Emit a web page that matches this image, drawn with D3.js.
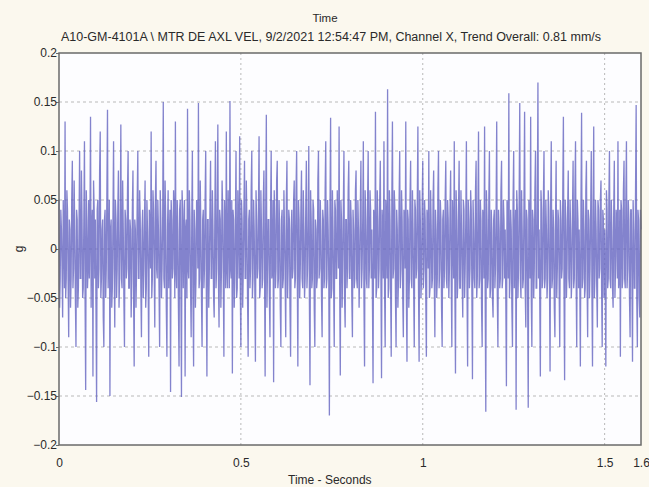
<!DOCTYPE html>
<html>
<head>
<meta charset="utf-8">
<script src="https://cdn.jsdelivr.net/npm/d3@7"></script>
<style>
  body { margin: 0; background: #fbf8ee; }
  text { font-family: "Liberation Sans", Arial, sans-serif; fill: #2a2a2a; }
</style>
</head>
<body>
<div id="chart"></div>
<script>
// waveform samples (g), one every 1.6/960 s
var amplitude = [
  0.05, -0.06, -0.03, 0.04, 0.02, -0.02, -0.07, 0.05, 0.01, -0.04, 0.13, -0.05, -0.03, 0.06, 0.04, -0.03, -0.09, 0.03, 0.02, -0.06, -0.03, 0.05, 0.09, -0.04, -0.02, 0.07, 0.02, -0.05, -0.1, 0.04, 0.03, -0.06, -0.04, 0.02, 0.1, -0.03, -0.03, 0.08, 0.03, -0.05,
  -0.04, 0.03, 0.11, -0.05, -0.144, 0.06, 0.03, -0.04, -0.02, 0.05, -0.03, 0.02, 0.135, -0.06, 0.02, 0.04, -0.13, 0.07, 0.04, -0.03, 0.03, -0.06, -0.156, 0.04, 0.05, -0.04, -0.02, 0.08, 0.12, -0.05, -0.03, 0.02, 0.03, -0.07, -0.1, 0.03, 0.04, -0.05, -0.02, 0.06,
  0.142, -0.04, 0.0, 0.05, -0.15, 0.02, 0.03, -0.06, -0.04, 0.03, 0.11, -0.02, -0.08, 0.05, 0.03, -0.05, -0.02, 0.04, 0.08, -0.06, -0.03, 0.02, 0.127, -0.03, -0.04, 0.07, 0.02, -0.05, -0.1, 0.04, 0.03, -0.03, -0.02, 0.06, 0.1, -0.04, -0.04, 0.03, 0.02, -0.07,
  -0.03, 0.04, 0.08, -0.05, -0.12, 0.03, 0.02, -0.06, -0.02, 0.05, 0.1, -0.03, -0.03, 0.06, 0.03, -0.04, -0.09, 0.02, 0.04, -0.05, -0.02, 0.03, 0.07, -0.06, -0.04, 0.05, 0.02, -0.03, -0.11, 0.04, 0.02, -0.02, 0.12, -0.05, -0.03, 0.06, 0.04, -0.02, -0.08, 0.05,
  0.09, -0.02, -0.03, 0.05, 0.02, -0.04, -0.1, 0.06, 0.03, -0.05, -0.02, 0.03, 0.15, -0.03, -0.04, 0.07, 0.03, -0.06, -0.11, 0.02, 0.06, -0.04, 0.01, 0.04, -0.146, 0.05, 0.03, -0.03, -0.02, 0.06, 0.04, -0.05, 0.13, -0.02, -0.04, 0.05, 0.02, -0.06, -0.12, 0.04,
  0.05, -0.03, -0.151, 0.06, 0.04, -0.04, 0.02, 0.05, -0.13, 0.02, 0.03, -0.05, 0.143, -0.02, -0.03, 0.06, 0.03, -0.04, -0.09, 0.03, 0.1, -0.05, -0.12, 0.04, 0.02, -0.06, -0.03, 0.05, 0.04, -0.02, 0.149, -0.04, -0.03, 0.07, 0.02, -0.05, -0.1, 0.03, 0.04, -0.04,
  -0.02, 0.05, 0.1, -0.04, -0.13, 0.03, 0.03, -0.06, -0.02, 0.04, 0.09, -0.03, -0.03, 0.06, 0.02, -0.05, -0.07, 0.03, 0.11, -0.04, -0.02, 0.05, 0.127, -0.03, -0.08, 0.04, 0.03, -0.06, -0.02, 0.07, 0.04, -0.03, -0.11, 0.05, 0.02, -0.04, 0.12, -0.02, -0.04, 0.06,
  0.02, -0.04, 0.151, -0.02, -0.03, 0.05, -0.127, 0.04, 0.03, -0.06, -0.03, 0.03, 0.1, -0.05, -0.04, 0.06, 0.02, -0.03, 0.115, -0.04, -0.1, 0.05, 0.03, -0.06, -0.02, 0.04, 0.09, -0.03, -0.03, 0.07, 0.02, -0.05, -0.11, 0.03, 0.04, -0.04, -0.02, 0.06, 0.1, -0.05,
  -0.03, 0.05, 0.02, -0.04, -0.115, 0.06, 0.03, -0.03, -0.02, 0.04, 0.115, -0.05, -0.04, 0.06, 0.02, -0.04, -0.03, 0.05, 0.08, -0.02, -0.13, 0.04, 0.137, -0.06, -0.02, 0.03, 0.03, -0.05, -0.09, 0.04, 0.1, -0.03, -0.02, 0.05, -0.136, 0.06, 0.03, -0.04, -0.02, 0.07,
  0.09, -0.04, -0.03, 0.05, 0.02, -0.06, -0.1, 0.03, 0.04, -0.04, -0.03, 0.06, 0.02, -0.03, -0.09, 0.05, 0.09, -0.05, -0.02, 0.04, 0.03, -0.06, -0.11, 0.02, 0.04, -0.03, -0.02, 0.05, 0.07, -0.04, -0.03, 0.06, 0.1, -0.02, -0.12, 0.05, 0.03, -0.05, -0.02, 0.04,
  0.08, -0.03, -0.04, 0.06, 0.02, -0.05, -0.03, 0.04, 0.09, -0.04, -0.02, 0.03, 0.105, -0.05, -0.139, 0.06, 0.03, -0.04, -0.03, 0.05, 0.04, -0.06, -0.1, 0.03, 0.02, -0.04, -0.03, 0.07, 0.1, -0.03, -0.02, 0.05, 0.02, -0.05, -0.09, 0.04, 0.03, -0.04, -0.03, 0.06,
  0.11, -0.04, -0.03, 0.05, 0.02, -0.03, -0.17, 0.04, 0.134, -0.05, -0.04, 0.06, 0.02, -0.04, -0.1, 0.05, 0.04, -0.03, -0.03, 0.06, 0.02, -0.02, 0.125, -0.04, -0.129, 0.05, 0.03, -0.06, -0.02, 0.04, 0.1, -0.05, -0.08, 0.03, 0.03, -0.04, -0.02, 0.06, 0.09, -0.03,
  -0.03, 0.05, 0.03, -0.05, -0.09, 0.04, 0.02, -0.04, -0.03, 0.06, 0.08, -0.03, -0.04, 0.05, 0.02, -0.06, -0.02, 0.04, 0.09, -0.04, -0.02, 0.03, 0.11, -0.05, -0.12, 0.06, 0.03, -0.03, -0.04, 0.05, 0.1, -0.04, -0.02, 0.06, 0.04, -0.03, 0.02, -0.05, -0.137, 0.04,
  0.03, -0.03, 0.14, -0.05, -0.04, 0.06, 0.03, -0.04, -0.02, 0.05, 0.09, -0.03, -0.132, 0.04, 0.02, -0.03, 0.11, -0.04, -0.1, 0.05, 0.02, -0.03, 0.163, -0.05, -0.04, 0.06, 0.03, -0.04, -0.11, 0.05, 0.13, -0.03, -0.02, 0.06, 0.04, -0.05, -0.1, 0.04, 0.02, -0.06,
  -0.03, 0.05, 0.1, -0.04, -0.02, 0.06, 0.03, -0.05, -0.09, 0.04, 0.03, -0.02, 0.13, -0.05, -0.115, 0.04, 0.03, -0.06, -0.03, 0.05, 0.09, -0.03, -0.04, 0.06, 0.02, -0.04, -0.1, 0.05, 0.04, -0.03, -0.02, 0.05, 0.125, -0.04, -0.115, 0.06, 0.03, -0.05, -0.03, 0.04,
  0.09, -0.04, -0.02, 0.05, 0.03, -0.05, -0.11, 0.04, 0.03, -0.02, 0.1, -0.05, -0.04, 0.06, 0.02, -0.04, -0.03, 0.05, 0.08, -0.03, -0.09, 0.04, 0.02, -0.05, -0.03, 0.06, 0.1, -0.04, -0.02, 0.05, 0.03, -0.06, -0.1, 0.03, 0.04, -0.04, -0.02, 0.05, 0.09, -0.03,
  -0.04, 0.05, 0.03, -0.05, -0.02, 0.04, 0.08, -0.03, -0.1, 0.05, 0.02, -0.03, 0.11, -0.04, -0.127, 0.06, 0.03, -0.05, -0.03, 0.04, 0.09, -0.04, -0.04, 0.06, 0.02, -0.03, -0.07, 0.05, 0.04, -0.05, -0.02, 0.03, 0.11, -0.04, -0.12, 0.05, 0.03, -0.04, -0.02, 0.06,
  0.04, -0.04, -0.133, 0.05, 0.02, -0.03, -0.04, 0.06, 0.09, -0.05, -0.03, 0.04, 0.12, -0.04, -0.03, 0.05, 0.03, -0.06, -0.1, 0.04, 0.03, -0.03, 0.125, -0.05, -0.166, 0.06, 0.03, -0.04, -0.03, 0.05, 0.1, -0.05, -0.04, 0.04, 0.02, -0.05, -0.07, 0.03, 0.04, -0.04,
  -0.02, 0.04, 0.13, -0.05, -0.1, 0.04, 0.02, -0.04, -0.03, 0.06, 0.09, -0.04, -0.03, 0.05, 0.03, -0.03, 0.02, -0.05, -0.14, 0.05, 0.04, -0.03, 0.159, -0.05, -0.03, 0.04, 0.02, -0.06, -0.1, 0.05, 0.1, -0.04, 0.01, 0.04, -0.164, 0.06, 0.04, -0.05, -0.02, 0.05,
  0.149, -0.03, -0.05, 0.06, 0.02, -0.04, -0.03, 0.05, 0.14, -0.04, -0.08, 0.04, 0.03, -0.05, -0.162, 0.05, 0.04, -0.03, 0.135, -0.05, -0.1, 0.04, 0.03, -0.05, -0.02, 0.06, 0.1, -0.04, -0.04, 0.05, 0.17, -0.03, 0.02, -0.05, -0.13, 0.06, 0.04, -0.04, -0.03, 0.05,
  0.1, -0.04, -0.03, 0.05, 0.02, -0.05, -0.03, 0.06, 0.04, -0.03, -0.125, 0.05, 0.11, -0.04, -0.03, 0.04, 0.02, -0.06, -0.09, 0.03, 0.09, -0.05, -0.02, 0.04, 0.03, -0.04, -0.1, 0.05, 0.03, -0.03, -0.02, 0.06, 0.135, -0.04, -0.134, 0.05, 0.03, -0.05, -0.02, 0.04,
  0.08, -0.03, -0.04, 0.05, 0.02, -0.05, -0.03, 0.04, 0.09, -0.04, -0.03, 0.06, 0.11, -0.03, -0.1, 0.05, 0.03, -0.04, 0.02, -0.03, -0.12, 0.05, 0.139, -0.04, -0.03, 0.05, 0.02, -0.05, -0.04, 0.06, 0.09, -0.03, -0.09, 0.04, 0.03, -0.05, -0.02, 0.04, 0.1, -0.04,
  -0.12, 0.04, 0.125, -0.05, -0.03, 0.05, 0.02, -0.04, -0.08, 0.05, 0.04, -0.03, -0.02, 0.05, 0.07, -0.04, -0.1, 0.04, 0.03, -0.05, 0.02, -0.03, -0.12, 0.06, 0.04, -0.04, -0.03, 0.05, 0.1, -0.03, -0.04, 0.05, 0.02, -0.04, -0.06, 0.04, 0.09, -0.05, -0.02, 0.04,
  0.03, -0.03, 0.11, -0.04, -0.03, 0.04, -0.11, 0.05, 0.04, -0.04, -0.03, 0.06, 0.09, -0.03, -0.04, 0.05, 0.11, -0.04, -0.02, 0.05, 0.03, -0.05, -0.09, 0.04, 0.04, -0.03, -0.115, 0.05, 0.02, -0.04, -0.04, 0.06, 0.147, -0.05, -0.1, 0.04, 0.03, -0.05, -0.07, 0.04,
  0.02
];
var duration = 1.6;
var yTicks = [-0.2, -0.15, -0.1, -0.05, 0, 0.05, 0.1, 0.15, 0.2];
var xTicks = [0, 0.5, 1, 1.5, 1.6];
var xGrid = [0.5, 1, 1.5];

var chartTitle = "Time";
var chartSubtitle = "A10-GM-4101A \\ MTR DE AXL VEL, 9/2/2021 12:54:47 PM, Channel X, Trend Overall: 0.81 mm/s";
var xLabel = "Time - Seconds";
var yLabel = "g";

var W = 649, H = 487;
var margin = { top: 53, right: 8, bottom: 42, left: 59 };
var width = W - margin.left - margin.right;
var height = H - margin.top - margin.bottom;

var svg = d3.select("#chart").append("svg")
  .attr("width", W)
  .attr("height", H);

svg.append("rect")
  .attr("width", W)
  .attr("height", H)
  .attr("fill", "#fbf8ee");

var g = svg.append("g")
  .attr("transform", "translate(" + margin.left + "," + margin.top + ")");

var x = d3.scaleLinear().domain([0, duration]).range([0, width]);
var y = d3.scaleLinear().domain([-0.2, 0.2]).range([height, 0]);

var dt = duration / (amplitude.length - 1);

g.append("rect")
  .attr("width", width)
  .attr("height", height)
  .attr("fill", "#fdfdff");

// dashed grid
g.selectAll(".hgrid")
  .data(yTicks.filter((d) => d > -0.2 && d < 0.2))
  .enter()
  .append("line")
  .attr("class", "hgrid")
  .attr("x1", 0)
  .attr("x2", width)
  .attr("y1", (d) => y(d))
  .attr("y2", (d) => y(d))
  .attr("stroke", "#b9b9b9")
  .attr("stroke-dasharray", "3,3");

g.selectAll(".vgrid")
  .data(xGrid)
  .enter()
  .append("line")
  .attr("class", "vgrid")
  .attr("x1", (d) => x(d))
  .attr("x2", (d) => x(d))
  .attr("y1", 0)
  .attr("y2", height)
  .attr("stroke", "#b9b9b9")
  .attr("stroke-dasharray", "2,3");

var line = d3.line()
  .x((d, i) => x(i * dt))
  .y((d) => y(d));

g.append("path")
  .datum(amplitude)
  .attr("d", line)
  .attr("fill", "none")
  .attr("stroke", "#6464c0")
  .attr("stroke-width", 1.3)
  .attr("stroke-opacity", 0.8);

// frame
g.append("rect")
  .attr("width", width)
  .attr("height", height)
  .attr("fill", "none")
  .attr("stroke", "#6a6a6a")
  .attr("stroke-width", 1.5);

// axes
var yAxis = g.append("g")
  .call(d3.axisLeft(y).tickValues(yTicks).tickSize(3).tickFormat(d3.format("~g")));
yAxis.select(".domain").remove();
yAxis.selectAll("line").attr("stroke", "#6a6a6a");
yAxis.selectAll("text")
  .attr("x", -2)
  .style("font-size", "12px")
  .style("font-family", "Liberation Sans, Arial, sans-serif")
  .attr("fill", "#2a2a2a");

var xAxis = g.append("g")
  .attr("transform", "translate(0," + height + ")")
  .call(d3.axisBottom(x).tickValues(xTicks).tickSize(0).tickFormat(d3.format("~g")));
xAxis.select(".domain").remove();
xAxis.selectAll("text")
  .attr("y", 13)
  .style("font-size", "12px")
  .style("font-family", "Liberation Sans, Arial, sans-serif")
  .attr("fill", "#2a2a2a");

// titles
svg.append("text")
  .attr("x", 325)
  .attr("y", 22)
  .attr("text-anchor", "middle")
  .style("font-size", "11.5px")
  .text(chartTitle);

svg.append("text")
  .attr("x", 331)
  .attr("y", 41)
  .attr("text-anchor", "middle")
  .style("font-size", "12.5px")
  .text(chartSubtitle);

svg.append("text")
  .attr("x", margin.left + x(0.75) - 2)
  .attr("y", 484)
  .attr("text-anchor", "middle")
  .style("font-size", "12px")
  .text(xLabel);

svg.append("text")
  .attr("transform", "translate(23," + (margin.top + y(0)) + ") rotate(-90)")
  .attr("text-anchor", "middle")
  .style("font-size", "12px")
  .text(yLabel);
</script>
</body>
</html>
